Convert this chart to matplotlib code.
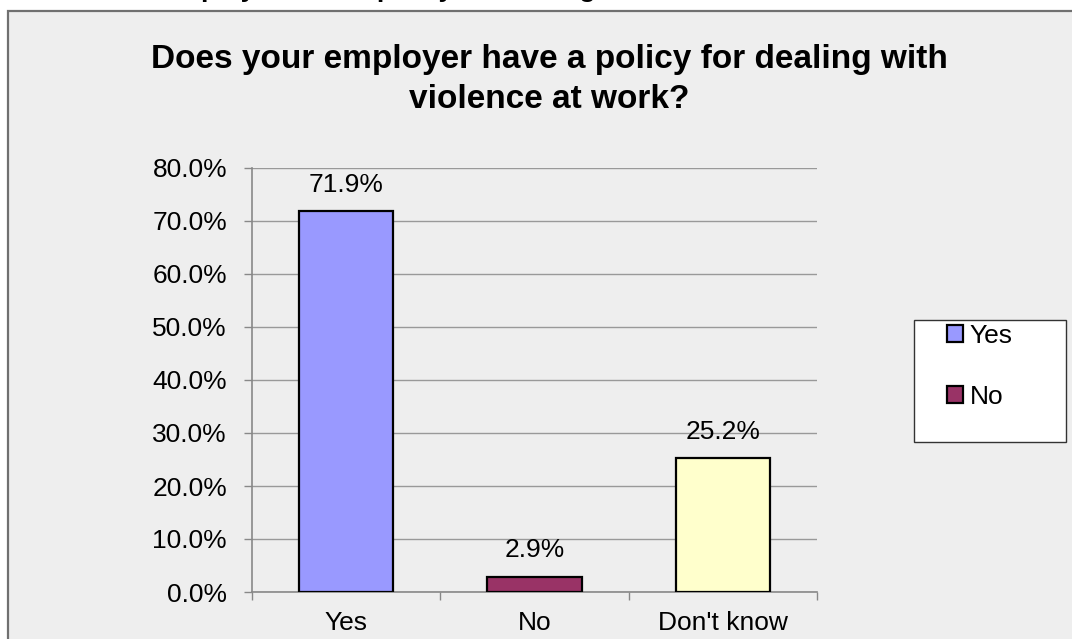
import matplotlib.pyplot as plt
from matplotlib.patches import Rectangle, Patch

plt.rcParams['font.family'] = ['Liberation Sans', 'DejaVu Sans']

# survey answers, percent of respondents
answers = ['Yes', 'No', "Don't know"]
percent = [71.9, 2.9, 25.2]
bar_colors = ['#9999FF', '#993366', '#FFFFCC']
y_ticks = [0, 10, 20, 30, 40, 50, 60, 70, 80]
question = 'Does your employer have a policy for dealing with\nviolence at work?'
heading = 'employer have a policy for dealing'

W, H = 1072, 639
fig = plt.figure(figsize=(W / 100, H / 100), dpi=100)
fig.patch.set_facecolor('white')

# grey chart area with its dark border (runs past the right and bottom edge)
fig.patches.append(Rectangle((8 / W, -0.1), 1.2, (H - 11) / H + 0.1,
                             transform=fig.transFigure, facecolor='#eeeeee',
                             edgecolor='#707070', linewidth=1.6, zorder=-2))

# leftover heading line from the page above, only its descenders show
fig.text(163 / W, 1 + 3.5 / H, heading, fontsize=19, fontweight='bold',
         ha='left', va='baseline')

fig.text(549 / W, 1 - 44 / H, question, fontsize=24, fontweight='bold',
         ha='center', va='top', linespacing=1.36)

ax = fig.add_axes([252 / W, 47 / H, 565 / W, 424 / H])
ax.set_facecolor('none')

x = list(range(len(answers)))
bars = ax.bar(x, percent, width=0.5, color=bar_colors, edgecolor='black',
              linewidth=1.6, zorder=3)

for xi, v in zip(x, percent):
    ax.annotate('%.1f%%' % v, (xi, v), xytext=(0, 19), textcoords='offset points',
                ha='center', va='center', fontsize=19)

ax.set_xlim(-0.5, len(answers) - 0.5)
ax.set_ylim(0, 80)
ax.set_yticks(y_ticks)
ax.set_yticklabels(['%.1f%%' % t for t in y_ticks])
ax.yaxis.grid(True, color='#999999', linewidth=1.0, zorder=1)

ax.set_xticks(x)
ax.set_xticklabels(answers)
ax.set_xticks([i - 0.5 for i in range(len(answers) + 1)], minor=True)
ax.tick_params(axis='x', which='major', length=0, pad=14, labelsize=19)
ax.tick_params(axis='x', which='minor', length=6, width=1.0, color='#888888',
               direction='out')
ax.tick_params(axis='y', length=6, width=1.0, color='#888888', pad=12,
               labelsize=19)

for side in ['top', 'right']:
    ax.spines[side].set_visible(False)
for side in ['left', 'bottom']:
    ax.spines[side].set_color('#888888')
    ax.spines[side].set_linewidth(1.2)

# legend box, only the first two categories are listed
fig.patches.append(Rectangle((914 / W, (H - 442) / H), 152 / W, 122 / H,
                             transform=fig.transFigure, facecolor='white',
                             edgecolor='#333333', linewidth=1.0, zorder=1))
handles = [Patch(facecolor=bar_colors[i], edgecolor='black', linewidth=1.6)
           for i in range(2)]
fig.legend(handles, answers[:2], loc='upper left',
           bbox_to_anchor=(947 / W, (H - 324) / H), frameon=False,
           fontsize=19, borderpad=0, borderaxespad=0, handlelength=0.6,
           handleheight=0.6, handletextpad=0.25, labelspacing=1.4)

fig.savefig('out.png', dpi=100)
